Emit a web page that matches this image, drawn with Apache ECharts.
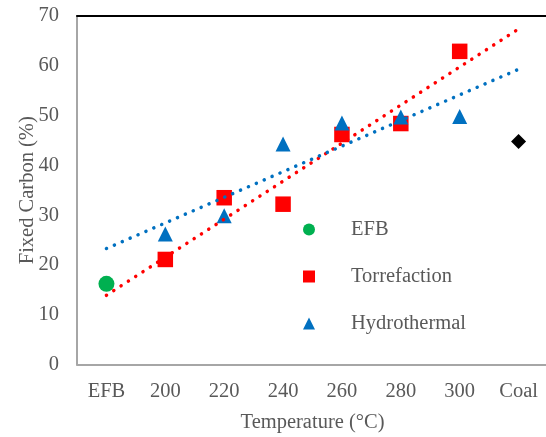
<!DOCTYPE html>
<html>
<head>
<meta charset="utf-8">
<script src="https://cdn.jsdelivr.net/npm/echarts@6/dist/echarts.min.js"></script>
<style>
    html, body { margin: 0; padding: 0; background: #fff; }
    #chart { width: 546px; height: 437px; }
</style>
</head>
<body>
<div id="chart"></div>
<script>
// categories on the x axis
const categories = ['EFB', '200', '220', '240', '260', '280', '300', 'Coal']
const yTicks = [0, 70, 10] // min, max, interval

// measured values (%)
const efbValues = [16.2, '-', '-', '-', '-', '-', '-', '-']
const torrefactionValues = ['-', 21.1, 33.5, 32.2, 46.2, 48.4, 62.9, '-']
const hydrothermalValues = ['-', 26.2, 29.9, 44.3, 48.5, 49.7, 49.8, '-']
const coalValues = ['-', '-', '-', '-', '-', '-', '-', 44.8]

// trendline end points
const torrefactionTrend = [['EFB', 13.9], ['Coal', 67.4]]
const hydrothermalTrend = [['EFB', 23.3], ['Coal', 59.3]]

const textColor = '#595959'
const font = 'Liberation Serif'
const fontSize = 20.5

const chart = echarts.init(document.getElementById('chart'))

const option = {
    animation: false,
    grid: {
        left: 77,
        right: -2,
        top: 16,
        bottom: 72.5,
        outerBoundsMode: 'none'
    },
    legend: {
        data: ['EFB', 'Torrefaction', 'Hydrothermal'],
        orient: 'vertical',
        left: 303,
        top: 219,
        padding: 0,
        itemWidth: 12,
        itemHeight: 12,
        itemGap: 26,
        textStyle: {
            color: textColor,
            fontFamily: font,
            fontSize: fontSize,
            padding: [0, 0, 0, 31]
        }
    },
    xAxis: [
        {
            type: 'category',
            data: categories,
            name: 'Temperature (°C)',
            nameLocation: 'middle',
            nameGap: 48,
            nameMoveOverlap: false,
            nameTextStyle: { color: textColor, fontFamily: font, fontSize: fontSize },
            axisLine: { lineStyle: { color: '#A6A6A6', width: 2 } },
            axisTick: { show: false },
            axisLabel: { color: textColor, fontFamily: font, fontSize: fontSize, margin: 17 }
        },
        {
            // black top border of the plot area
            type: 'category',
            data: categories,
            position: 'top',
            axisLine: { lineStyle: { color: '#000', width: 2 } },
            axisTick: { show: false },
            axisLabel: { show: false }
        }
    ],
    yAxis: {
        type: 'value',
        min: yTicks[0],
        max: yTicks[1],
        interval: yTicks[2],
        name: 'Fixed Carbon (%)',
        nameLocation: 'middle',
        nameGap: 39,
        nameMoveOverlap: false,
        nameTextStyle: { color: textColor, fontFamily: font, fontSize: fontSize },
        axisLine: { show: true, lineStyle: { color: '#A6A6A6', width: 2 } },
        axisTick: { show: false },
        splitLine: { show: false },
        axisLabel: { color: textColor, fontFamily: font, fontSize: fontSize, margin: 18 }
    },
    series: [
        {
            name: 'EFB',
            type: 'scatter',
            symbol: 'circle',
            symbolSize: 16,
            itemStyle: { color: '#00B050', opacity: 1 },
            data: efbValues
        },
        {
            name: 'Torrefaction',
            type: 'scatter',
            symbol: 'rect',
            symbolSize: 15.5,
            itemStyle: { color: '#FF0000', opacity: 1 },
            data: torrefactionValues
        },
        {
            name: 'Hydrothermal',
            type: 'scatter',
            symbol: 'triangle',
            symbolSize: 15,
            itemStyle: { color: '#0070C0', opacity: 1 },
            data: hydrothermalValues
        },
        {
            name: 'Coal',
            type: 'scatter',
            symbol: 'diamond',
            symbolSize: 15,
            itemStyle: { color: '#000', opacity: 1 },
            data: coalValues
        },
        {
            name: 'Torrefaction trend',
            type: 'line',
            showSymbol: false,
            z: 5,
            lineStyle: { color: '#FF0000', width: 3.5, type: [0.1, 8.6], cap: 'round' },
            data: torrefactionTrend
        },
        {
            name: 'Hydrothermal trend',
            type: 'line',
            showSymbol: false,
            z: 5,
            lineStyle: { color: '#0070C0', width: 3.5, type: [0.1, 8.5], cap: 'round' },
            data: hydrothermalTrend
        }
    ]
}

chart.setOption(option)
</script>
</body>
</html>
